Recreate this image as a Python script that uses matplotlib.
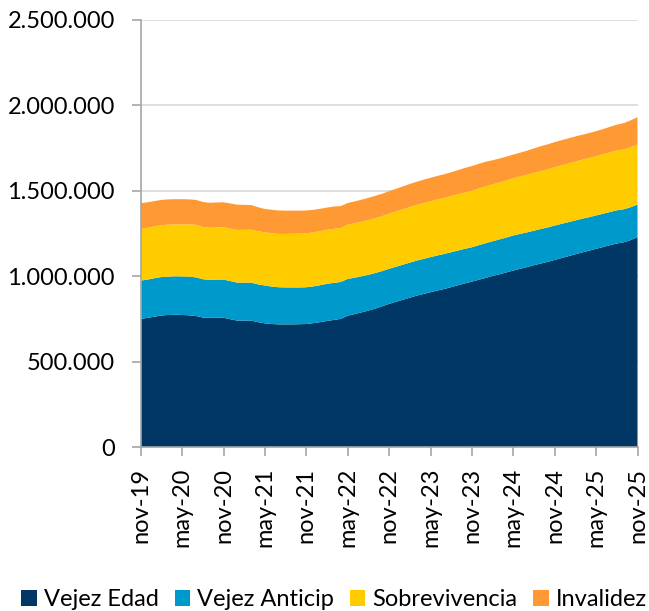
import numpy as np
import matplotlib
matplotlib.use("Agg")
import matplotlib.pyplot as plt
from matplotlib.ticker import FuncFormatter

# monthly values (thousands), nov-19 .. nov-25
vejez_edad = [752, 758, 765, 772, 775, 776, 775, 773, 769, 760, 758, 759, 759,
              750, 742, 742, 742, 733, 726, 722, 720, 720, 720, 721, 722,
              727, 733, 740, 746, 752, 771, 780, 790, 801, 812, 826, 840,
              852, 864, 876, 888, 898, 908, 918, 927, 938, 949, 960, 970,
              981, 992, 1003, 1013, 1024, 1035, 1045, 1055, 1066, 1076, 1086, 1097,
              1108, 1119, 1130, 1141, 1151, 1162, 1172, 1183, 1193, 1200, 1213, 1230]
vejez_anticip = [224, 224, 225, 225, 224, 225, 225, 226, 226,
                 224, 222, 222, 223, 223, 222, 222, 222,
                 221, 221, 219, 217, 216, 216, 215, 215,
                 215, 216, 217, 217, 216, 215, 213, 211, 209, 208, 206, 205,
                 205, 205, 205, 205, 205, 205, 205, 205, 204, 203, 202, 201,
                 202, 203, 203, 204, 204, 205, 204, 203, 202, 202, 201, 201,
                 200, 199, 198, 197, 196, 195, 195, 194, 194, 193, 192, 191]
sobrevivencia = [303, 303, 303, 303, 304, 304, 305, 306, 307, 306, 305, 306, 306,
                 307, 308, 309, 310, 311, 311, 312, 312, 313, 314, 315, 316,
                 316, 316, 316, 316, 316, 317, 318, 319, 320, 321, 321, 322,
                 323, 324, 325, 325, 326, 327, 328, 328, 329, 329, 330, 330,
                 331, 332, 332, 333, 334, 335, 336, 337, 338, 339, 340, 341,
                 342, 343, 344, 345, 346, 347, 348, 349, 350, 350, 351, 350]
invalidez = [149, 149, 148, 148, 148, 147, 147, 146, 146, 146, 146, 146, 146,
             147, 148, 146, 144, 140, 137, 137, 137, 136, 135, 134, 133,
             132, 131, 130, 130, 128, 127, 128, 129, 130, 131, 131, 132,
             133, 134, 135, 136, 137, 137, 137, 138, 139, 141, 143, 145,
             145, 144, 142, 140, 139, 138, 139, 141, 143, 145, 146, 147,
             147, 147, 147, 146, 146, 146, 147, 149, 151, 154, 157, 161]

tick_labels = ["nov-19", "may-20", "nov-20", "may-21", "nov-21", "may-22", "nov-22",
               "may-23", "nov-23", "may-24", "nov-24", "may-25", "nov-25"]
series_names = ["Vejez Edad", "Vejez Anticip", "Sobrevivencia", "Invalidez"]
colors = ["#003764", "#0099CC", "#FFCC00", "#FF9933"]

plt.rcParams['font.family'] = ['Lato', 'DejaVu Sans']

fig = plt.figure(figsize=(6.49, 6.11), dpi=100)
ax = fig.add_axes([0.2168, 0.2676, 0.7655, 0.6997])

x = np.arange(len(vejez_edad))
data = np.array([vejez_edad, vejez_anticip, sobrevivencia, invalidez]) * 1000
ax.stackplot(x, data, labels=series_names, colors=colors, linewidth=0, zorder=2)

ax.set_xlim(0, len(x) - 1)
ax.set_ylim(0, 2500000)
ax.set_yticks(np.arange(0, 2500001, 500000))
ax.yaxis.set_major_formatter(FuncFormatter(lambda v, p: f"{int(v):,}".replace(",", ".")))
ax.set_xticks(np.arange(0, len(x), 6))
ax.set_xticklabels(tick_labels, rotation=90)

ax.grid(axis='y', color='#d9d9d9', linewidth=1.2, zorder=0)
ax.set_axisbelow(True)
for s in ['top', 'right']:
    ax.spines[s].set_visible(False)
for s in ['left', 'bottom']:
    ax.spines[s].set_color('#a6a6a6')
    ax.spines[s].set_linewidth(1.2)
ax.tick_params(axis='both', colors='#a6a6a6', labelcolor='black', labelsize=17,
               length=6.5, width=1.2)
ax.tick_params(axis='y', pad=12)
ax.tick_params(axis='x', pad=8)

ax.legend(loc='center left', bbox_to_anchor=(0.033, 0.019), bbox_transform=fig.transFigure,
          ncol=4, frameon=False, fontsize=17, handlelength=0.66, handleheight=0.66,
          handletextpad=0.3, columnspacing=0.66, borderpad=0, borderaxespad=0)

fig.savefig("out.png", dpi=100)
